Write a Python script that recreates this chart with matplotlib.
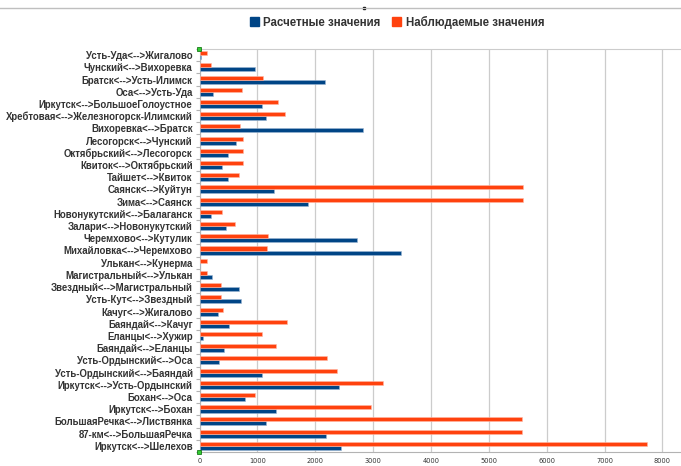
import matplotlib
matplotlib.use("Agg")
import matplotlib.pyplot as plt
import numpy as np
from matplotlib.patches import Rectangle

categories = [
    "Усть-Уда<-->Жигалово",
    "Чунский<-->Вихоревка",
    "Братск<-->Усть-Илимск",
    "Оса<-->Усть-Уда",
    "Иркутск<-->БольшоеГолоустное",
    "Хребтовая<-->Железногорск-Илимский",
    "Вихоревка<-->Братск",
    "Лесогорск<-->Чунский",
    "Октябрьский<-->Лесогорск",
    "Квиток<-->Октябрьский",
    "Тайшет<-->Квиток",
    "Саянск<-->Куйтун",
    "Зима<-->Саянск",
    "Новонукутский<-->Балаганск",
    "Залари<-->Новонукутский",
    "Черемхово<-->Кутулик",
    "Михайловка<-->Черемхово",
    "Улькан<-->Кунерма",
    "Магистральный<-->Улькан",
    "Звездный<-->Магистральный",
    "Усть-Кут<-->Звездный",
    "Качуг<-->Жигалово",
    "Баяндай<-->Качуг",
    "Еланцы<-->Хужир",
    "Баяндай<-->Еланцы",
    "Усть-Ордынский<-->Оса",
    "Усть-Ордынский<-->Баяндай",
    "Иркутск<-->Усть-Ордынский",
    "Бохан<-->Оса",
    "Иркутск<-->Бохан",
    "БольшаяРечка<-->Листвянка",
    "87-км<-->БольшаяРечка",
    "Иркутск<-->Шелехов",
]

calculated = [23, 961, 2176, 236, 1077, 1146, 2821, 627, 489, 386, 501,
              1295, 1871, 201, 455, 2729, 3489, 0, 213, 679, 725,
              328, 512, 58, 420, 340, 1077, 2418, 789, 1318, 1146, 2182, 2441]

observed = [127, 207, 1105, 731, 1364, 1474, 708, 748, 748, 748, 679,
            5584, 5584, 386, 622, 1180, 1174, 138, 138, 368, 368,
            403, 1520, 1082, 1324, 2199, 2383, 3178, 961, 2965, 5573, 5573, 7737]

series_names = ["Расчетные значения", "Наблюдаемые значения"]
colors = ["#004586", "#ff420e"]

xticks = [0, 1000, 2000, 3000, 4000, 5000, 6000, 7000, 8000]

fig = plt.figure(figsize=(6.81, 4.66), dpi=100)
ax = fig.add_axes([199.5 / 681, 1 - 452 / 466, 1 - 199.5 / 681, (452 - 49) / 466])

n = len(categories)
y = np.arange(n)
h = 0.33
ax.barh(y + h / 2, calculated, height=h, color=colors[0], edgecolor="#9db7d3",
        linewidth=0.4, zorder=3)
ax.barh(y - h / 2, observed, height=h, color=colors[1], edgecolor="#ffb8a6",
        linewidth=0.4, zorder=3)

ax.set_ylim(n - 0.5, -0.5)
ax.set_xlim(0, 8320)
ax.set_yticks(y)
ax.set_yticklabels(categories, fontfamily="Liberation Sans", fontweight="bold",
                   fontsize=6.9, color="#333333")
ax.set_yticks(np.arange(n + 1) - 0.5, minor=True)
ax.tick_params(axis="y", which="major", length=0, pad=5)
ax.tick_params(axis="y", which="minor", length=3, color="#b3b3b3", width=0.8)

ax.set_xticks(xticks)
ax.set_xticklabels([str(v) for v in xticks], fontfamily="DejaVu Sans",
                   fontsize=4.8, color="#333333")
ax.tick_params(axis="x", length=0, pad=4)
ax.grid(axis="x", color="#cccccc", linewidth=0.9, zorder=0)

ax.spines["right"].set_visible(False)
ax.spines["top"].set_color("#cccccc")
ax.spines["left"].set_color("#b3b3b3")
ax.spines["bottom"].set_color("#b3b3b3")

# selection handles at the axis corners
for yy in (49, 452):
    fig.patches.append(Rectangle((197.5 / 681, 1 - (yy + 2) / 466), 4 / 681, 4 / 466,
                                 transform=fig.transFigure, facecolor="#33cc33",
                                 edgecolor="#006600", linewidth=0.5, zorder=10))

# outer border line and legend
fig.add_artist(plt.Line2D([0, 1], [1 - 7.5 / 466] * 2, color="#bfbfbf", linewidth=1.0))
fig.add_artist(Rectangle((362.5 / 681, 1 - 9 / 466), 2 / 681, 2 / 466,
                         transform=fig.transFigure, color="black"))

handles = [Rectangle((0, 0), 1, 1, color=c) for c in colors]
fig.legend(handles, series_names, loc="center", bbox_to_anchor=(397 / 681, 1 - 22 / 466),
           ncol=2, frameon=False, prop={"family": "Liberation Sans", "weight": "bold", "size": 8.3},
           handlelength=0.8, handleheight=0.8, handletextpad=0.4, columnspacing=1.0,
           labelcolor="#333333")

fig.savefig("out.png", dpi=100)
